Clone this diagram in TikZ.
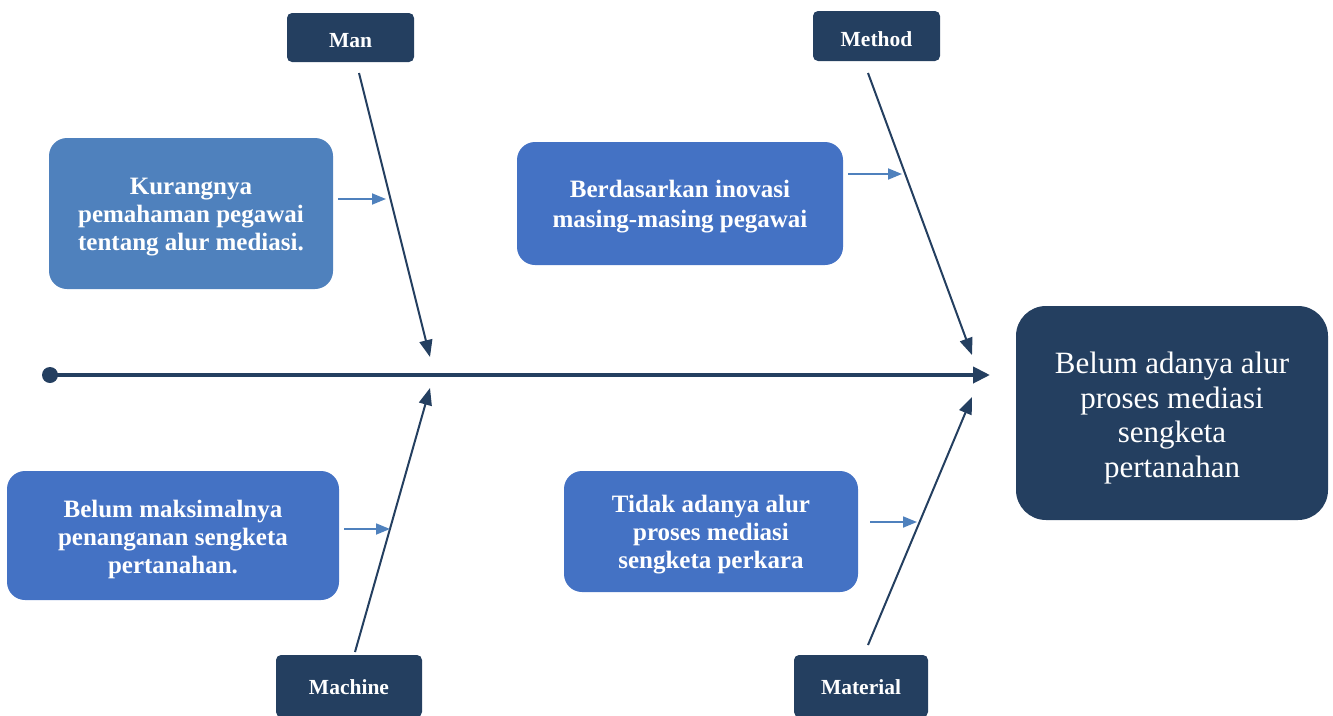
\documentclass[tikz,border=0pt]{standalone}
\usepackage{fontspec}
\setmainfont{Liberation Serif}
\usetikzlibrary{arrows.meta}
\definecolor{navy}{HTML}{243F60}
\definecolor{blueA}{HTML}{4472C4}
\definecolor{blueB}{HTML}{4F81BD}
\begin{document}
\begin{tikzpicture}[x=1pt,y=-1pt,
  catbox/.style={draw=none,fill=navy,rounded corners=5pt,inner sep=0pt},
  cattext/.style={text=white,font=\fontsize{21.5}{24}\selectfont\bfseries,inner sep=0pt},
  causebox/.style={draw=none,rounded corners=18pt,inner sep=0pt},
  causetext/.style={text=white,font=\fontsize{25}{28}\selectfont\bfseries,align=center,inner sep=0pt},
  bone/.style={navy,line width=2pt,-{Triangle[length=17pt,width=13pt]}},
  small/.style={blueB,line width=1.8pt,-{Triangle[length=14pt,width=11pt]}}]
\useasboundingbox (0,0) rectangle (1333,715);
% category boxes
\node[catbox,minimum width=127pt,minimum height=49pt] (man) at (350.5,37.5) {};
\node[cattext] (mant) at ([yshift=-3pt]man.center) {Man};
\node[catbox,minimum width=127pt,minimum height=50pt] (method) at (876.5,36) {};
\node[cattext] (methodt) at ([yshift=-3pt]method.center) {Method};
\node[catbox,minimum width=146pt,minimum height=62pt] (machine) at (349,686) {};
\node[cattext] (machinet) at ([yshift=-1pt]machine.center) {Machine};
\node[catbox,minimum width=134pt,minimum height=62pt] (material) at (861,686) {};
\node[cattext] (materialt) at ([yshift=-1pt]material.center) {Material};
% cause boxes
\node[causebox,fill=blueB,minimum width=284pt,minimum height=151pt] (c1) at (191,213.5) {};
\node[causetext] (c1t) at ([yshift=-4pt]c1.center) {Kurangnya\\pemahaman pegawai\\tentang alur mediasi.};
\node[causebox,fill=blueA,minimum width=326pt,minimum height=123pt] (c2) at (680,203.5) {};
\node[causetext,font=\fontsize{25}{30}\selectfont\bfseries] (c2t) at ([yshift=-3pt]c2.center) {Berdasarkan inovasi\\masing-masing pegawai};
\node[causebox,fill=blueA,minimum width=332pt,minimum height=129pt] (c3) at (173,535.5) {};
\node[causetext] (c3t) at ([yshift=-4pt]c3.center) {Belum maksimalnya\\penanganan sengketa\\pertanahan.};
\node[causebox,fill=blueA,minimum width=294pt,minimum height=121pt] (c4) at (711,531.5) {};
\node[causetext] (c4t) at ([yshift=-3pt]c4.center) {Tidak adanya alur\\proses mediasi\\sengketa perkara};
% effect box
\node[draw=none,fill=navy,rounded corners=30pt,inner sep=0pt,minimum width=312pt,minimum height=214pt] (effect) at (1172,413) {};
\node[text=white,align=center,inner sep=0pt,font=\fontsize{31}{34.5}\selectfont] (effectt) at ([yshift=-5pt]effect.center) {Belum adanya alur\\proses mediasi\\sengketa\\pertanahan};
% spine
\fill[navy] (50,375) circle (8pt) coordinate (tail);
\coordinate (head) at (990,375);
\draw[navy,line width=4pt,-{Triangle[length=17pt,width=16pt]}] (tail) -- (head);
% bones
\coordinate (b1s) at (359,73); \coordinate (b1e) at (430,357);
\coordinate (b2s) at (868,73); \coordinate (b2e) at (972,355);
\coordinate (b3s) at (355,652); \coordinate (b3e) at (430,388);
\coordinate (b4s) at (868,645); \coordinate (b4e) at (972,397);
\draw[bone] (b1s) -- (b1e);
\draw[bone] (b2s) -- (b2e);
\draw[bone] (b3s) -- (b3e);
\draw[bone] (b4s) -- (b4e);
% small arrows
\coordinate (s1e) at (386,199); \coordinate (s2e) at (902,174);
\coordinate (s3e) at (390,529); \coordinate (s4e) at (917,522);
\draw[small] (338,199) -- (s1e);
\draw[small] (848,174) -- (s2e);
\draw[small] (344,529) -- (s3e);
\draw[small] (870,522) -- (s4e);
\end{tikzpicture}
\end{document}
